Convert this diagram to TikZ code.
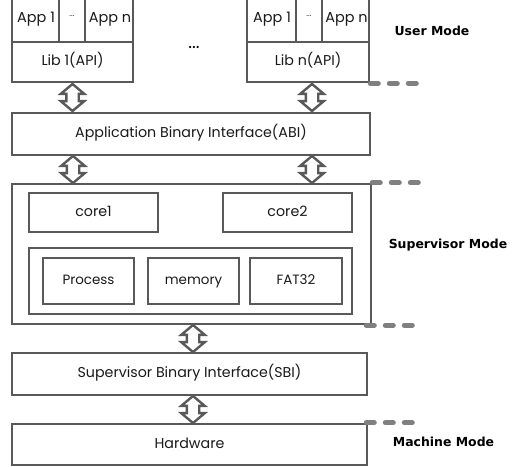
\documentclass[tikz,border=0pt]{standalone}
\usepackage{fontspec}
\setmainfont{Poppins}
\newfontfamily\labelfont{DejaVu Sans}
\usetikzlibrary{shapes.arrows,calc}
\definecolor{boxgray}{HTML}{595959}
\definecolor{dashgray}{HTML}{808080}
\definecolor{txtgray}{HTML}{1a1a1a}
\begin{document}
\begin{tikzpicture}[x=1bp,y=-1bp,
  box/.style={draw=boxgray, line width=2.6bp, fill=white, inner sep=0pt,
    font=\fontsize{14.3}{16}\selectfont, text=txtgray, text height=1.3ex, text depth=0ex},
  apptext/.style={font=\fontsize{14.5}{16}\selectfont, text=txtgray, inner sep=0pt, text height=1.3ex, text depth=0ex},
  dbl/.style={double arrow, rotate=90, draw=boxgray, fill=white, line width=2.4bp,
    inner xsep=0pt, inner ysep=5bp, double arrow head extend=5.5bp,
    double arrow tip angle=100, minimum height=27bp},
  modedash/.style={draw=dashgray, line width=5bp, line cap=round, dash pattern=on 8bp off 11bp},
  mode/.style={font=\labelfont\bfseries\fontsize{12.5}{14}\selectfont, text=black}]
\useasboundingbox (0,0) rectangle (530,467);
\clip (0,0) rectangle (530,467);

% user stacks
\node[box, minimum width=47bp, minimum height=56bp] (a11) at (35.5,14) {};
\node[apptext] (a11t) at (36,19) {App 1};
\node[box, minimum width=48bp, minimum height=56bp] (a1n) at (109,14) {};
\node[apptext] (a1nt) at (110,19) {App n};
\node[font=\fontsize{8}{9}\selectfont, text=txtgray] (d1) at (72,16) {...};
\node[box, minimum width=121bp, minimum height=40bp] (lib1) at (72.5,62) {Lib 1(API)};

\node[box, minimum width=49bp, minimum height=56bp] (a21) at (271.5,14) {};
\node[apptext] (a21t) at (272,19) {App 1};
\node[box, minimum width=47bp, minimum height=56bp] (a2n) at (345.5,14) {};
\node[apptext] (a2nt) at (346.5,19) {App n};
\node[font=\fontsize{8}{9}\selectfont, text=txtgray] (d2) at (309,16) {...};
\node[box, minimum width=122bp, minimum height=40bp] (libn) at (308,62) {Lib n(API)};

\node[font=\fontsize{18}{20}\selectfont, text=black] (dots) at (194,48) {...};

% ABI
\node[box, minimum width=358bp, minimum height=42bp] (abi) at (191,134) {Application Binary Interface(ABI)};

% supervisor
\node[box, minimum width=359bp, minimum height=140bp] (sup) at (191.5,254) {};
\node[box, minimum width=129bp, minimum height=39bp] (core1) at (93.5,212.5) {core1};
\node[box, minimum width=129bp, minimum height=39bp] (core2) at (287.5,212.5) {core2};
\node[box, minimum width=323bp, minimum height=66bp] (inner) at (190.5,281) {};
\node[box, minimum width=91bp, minimum height=46bp, font=\fontsize{13.5}{15}\selectfont] (proc) at (88.5,281) {Process};
\node[box, minimum width=91bp, minimum height=46bp, font=\fontsize{13.5}{15}\selectfont] (mem) at (193.5,281) {memory};
\node[box, minimum width=92bp, minimum height=46bp, font=\fontsize{13.5}{15}\selectfont] (fat) at (296,281) {FAT32};

% SBI and hardware
\node[box, minimum width=355bp, minimum height=42bp] (sbi) at (189.5,374) {Supervisor Binary Interface(SBI)};
\node[box, minimum width=355bp, minimum height=41bp] (hw) at (189.5,444.5) {Hardware};

% double arrows
\node[dbl] (ar1) at ($(lib1.south)!0.5!(lib1.south |- abi.north)$) {};
\node[dbl] (ar2) at (312,97.5) {};
\node[dbl] (ar3) at (73,169.5) {};
\node[dbl] (ar4) at (312,169.5) {};
\node[dbl] (ar5) at (193,338.5) {};
\node[dbl] (ar6) at (193,409.5) {};

% mode separators
\draw[modedash] (libn.south east) -- ++(52,0);
\draw[modedash] (sup.north east) -- ++(48,0);
\draw[modedash] ($(sup.south east)+(-6,0)$) -- ++(50,0);
\draw[modedash] ($(hw.north east)+(-2,0)$) -- ++(50,0);

% mode labels
\node[mode] (um) at (432,31) {User Mode};
\node[mode] (sm) at (448,245) {Supervisor Mode};
\node[mode] (mm) at (443.5,442) {Machine Mode};
\end{tikzpicture}
\end{document}
